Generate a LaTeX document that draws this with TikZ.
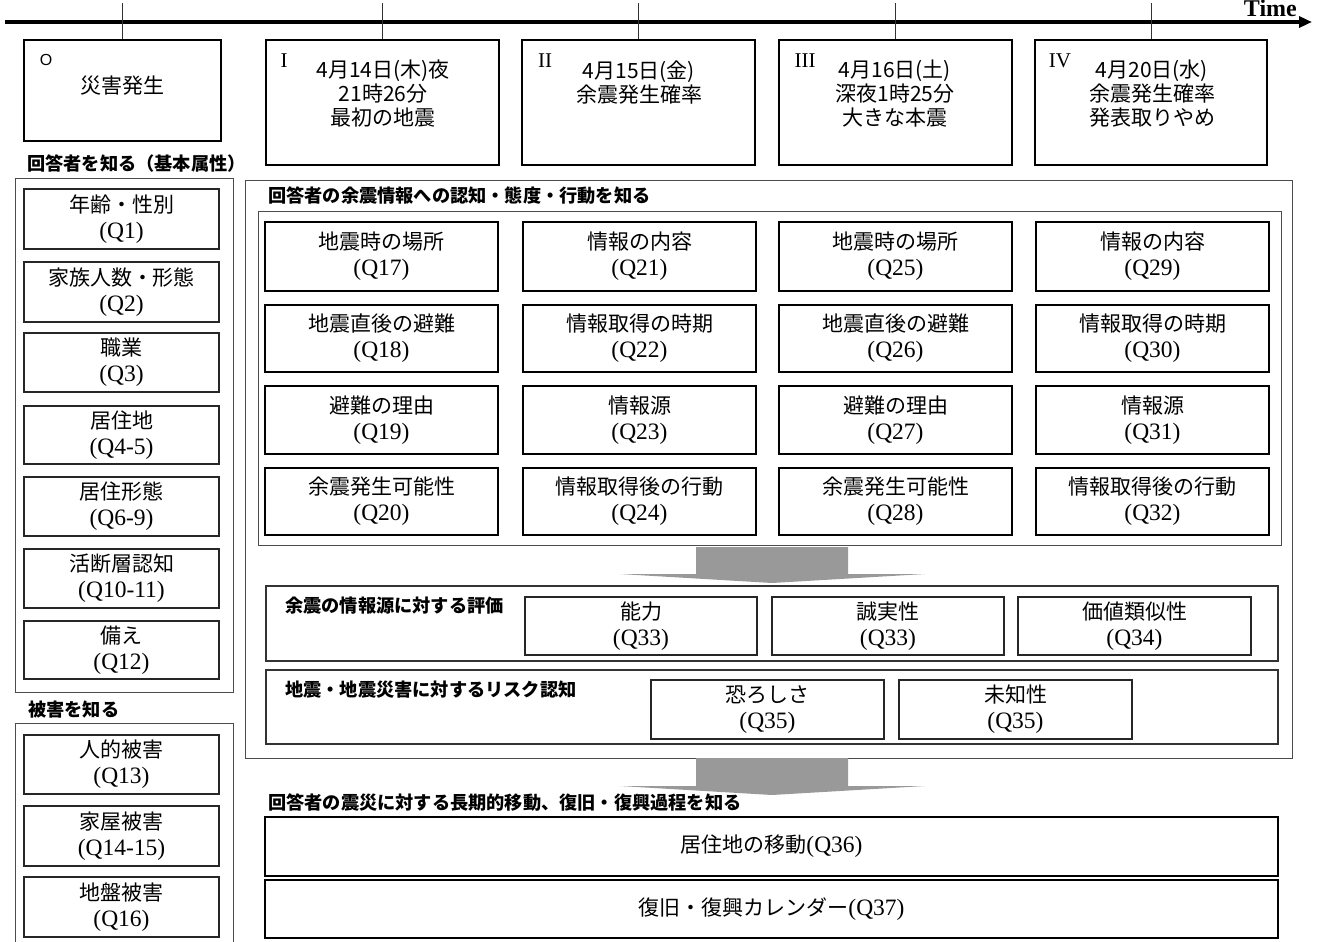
\documentclass[tikz,border=0pt]{standalone}
\usepackage{fontspec}
\setmainfont{Liberation Serif}
\newfontfamily\jp{Noto Sans CJK JP}
\newfontfamily\osans{Liberation Sans}
\usetikzlibrary{arrows.meta}
\tikzset{
  base/.style={draw, inner sep=0pt, align=center, font=\fontsize{21}{26}\selectfont},
  tlbox/.style={base, line width=2.2pt},
  gbox/.style={base, line width=2.4pt},
  lbox/.style={base, line width=1.3pt, draw=black!85},
  bbox/.style={base, line width=2.8pt},
  frame/.style={draw=black!70, line width=1pt},
  subframe/.style={draw=black!80, line width=1.3pt},
  lab/.style={anchor=west, inner sep=0pt, font=\jp\bfseries\fontsize{18.2}{20}\selectfont},
  numeral/.style={inner sep=0pt, font=\fontsize{21}{21}\selectfont},
  tltext/.style={inner sep=0pt, align=center, font=\jp\fontsize{21}{24}\selectfont},
  arr/.style={fill=black!40, draw=none},
  tick/.style={draw=black!80, line width=1pt},
}
\newcommand\mkbox[7]{\node[#1, minimum width={(#4)-(#2)}, minimum height={(#5)-(#3)}] (#6) at ({((#2)+(#4))/2},{((#3)+(#5))/2}) {#7};}
\newcommand\qf{\fontsize{23.5}{26}\selectfont}
\newcommand\ql[2]{{\jp #1}\\{\qf #2}}
\begin{document}
\begin{tikzpicture}[x=1pt,y=-1pt]
\useasboundingbox (0,0) rectangle (1320,942);
\fill[white] (0,0) rectangle (1320,942);

% timeline
\coordinate (tl0) at (5,22);
\coordinate (tl1) at (1312,22);
\draw[line width=3.5pt, -{Triangle[length=13pt,width=11pt]}] (tl0) -- (tl1);
\node[anchor=base east, inner sep=0pt, font=\bfseries\fontsize{24}{24}\selectfont] (time) at (1297,17) {Time};

% timeline boxes
\mkbox{tlbox}{24}{40}{221}{141}{b0}{}
\mkbox{tlbox}{266}{40}{499}{165}{b1}{}
\mkbox{tlbox}{522}{40}{755}{165}{b2}{}
\mkbox{tlbox}{779}{40}{1012}{165}{b3}{}
\mkbox{tlbox}{1035}{40}{1267}{165}{b4}{}
\foreach \b in {b0,b1,b2,b3,b4}{
  \coordinate (\b top) at (\b.north |- 0,3);
  \draw[tick] (\b top) -- (\b.north);
}
\node[inner sep=0pt, font=\osans\fontsize{16}{16}\selectfont] (n0) at (46,60) {O};
\node[numeral] (n1) at (284,61) {I};
\node[numeral] (n2) at (545,61) {II};
\node[numeral] (n3) at (805,61) {III};
\node[numeral] (n4) at (1060,61) {IV};
\node[tltext] (t0) at (122,86) {災害発生};
\node[tltext] (t1) at (383,94) {4月14日(木)夜\\21時26分\\最初の地震};
\node[tltext] (t2) at (639,83) {4月15日(金)\\余震発生確率};
\node[tltext] (t3) at (895,94) {4月16日(土)\\深夜1時25分\\大きな本震};
\node[tltext] (t4) at (1152,94) {4月20日(水)\\余震発生確率\\発表取りやめ};

% left column
\node[lab] (labA) at (27,164) {回答者を知る（基本属性）};
\draw[frame] (15,178) rectangle (233,692);
\mkbox{lbox}{24}{189}{219}{249}{q1}{\ql{年齢・性別}{(Q1)}}
\mkbox{lbox}{24}{262}{219}{322}{q2}{\ql{家族人数・形態}{(Q2)}}
\mkbox{lbox}{24}{333}{219}{392}{q3}{\ql{職業}{(Q3)}}
\mkbox{lbox}{24}{406}{219}{464}{q4}{\ql{居住地}{(Q4-5)}}
\mkbox{lbox}{24}{477}{219}{536}{q6}{\ql{居住形態}{(Q6-9)}}
\mkbox{lbox}{24}{549}{219}{608}{q10}{\ql{活断層認知}{(Q10-11)}}
\mkbox{lbox}{24}{621}{219}{679}{q12}{\ql{備え}{(Q12)}}

\node[lab] (labB) at (28,710) {被害を知る};
\draw[frame] (15,723) rectangle (233,960);
\mkbox{lbox}{24}{735}{219}{794}{q13}{\ql{人的被害}{(Q13)}}
\mkbox{lbox}{24}{806}{219}{866}{q14}{\ql{家屋被害}{(Q14-15)}}
\mkbox{lbox}{24}{877}{219}{937}{q16}{\ql{地盤被害}{(Q16)}}

% right: big frame
\draw[frame] (245,180) rectangle (1292,758);
\node[lab] (labC) at (268,196) {回答者の余震情報への認知・態度・行動を知る};
\draw[frame] (258,211) rectangle (1281,545);

% grid
\mkbox{gbox}{265}{222}{498}{291}{q17}{\ql{地震時の場所}{(Q17)}}
\mkbox{gbox}{265}{305}{498}{372}{q18}{\ql{地震直後の避難}{(Q18)}}
\mkbox{gbox}{265}{386}{498}{454}{q19}{\ql{避難の理由}{(Q19)}}
\mkbox{gbox}{265}{468}{498}{535}{q20}{\ql{余震発生可能性}{(Q20)}}
\mkbox{gbox}{523}{222}{756}{291}{q21}{\ql{情報の内容}{(Q21)}}
\mkbox{gbox}{523}{305}{756}{372}{q22}{\ql{情報取得の時期}{(Q22)}}
\mkbox{gbox}{523}{386}{756}{454}{q23}{\ql{情報源}{(Q23)}}
\mkbox{gbox}{523}{468}{756}{535}{q24}{\ql{情報取得後の行動}{(Q24)}}
\mkbox{gbox}{779}{222}{1012}{291}{q25}{\ql{地震時の場所}{(Q25)}}
\mkbox{gbox}{779}{305}{1012}{372}{q26}{\ql{地震直後の避難}{(Q26)}}
\mkbox{gbox}{779}{386}{1012}{454}{q27}{\ql{避難の理由}{(Q27)}}
\mkbox{gbox}{779}{468}{1012}{535}{q28}{\ql{余震発生可能性}{(Q28)}}
\mkbox{gbox}{1036}{222}{1269}{291}{q29}{\ql{情報の内容}{(Q29)}}
\mkbox{gbox}{1036}{305}{1269}{372}{q30}{\ql{情報取得の時期}{(Q30)}}
\mkbox{gbox}{1036}{386}{1269}{454}{q31}{\ql{情報源}{(Q31)}}
\mkbox{gbox}{1036}{468}{1269}{535}{q32}{\ql{情報取得後の行動}{(Q32)}}

% arrow 1
\fill[arr] (696,547) -- (848,547) -- (848,574) -- (925,574) -- (772,583) -- (620,574) -- (696,574) -- cycle;

% evaluation
\draw[subframe] (266,586) rectangle (1278,661);
\node[lab] (labD) at (285,606) {余震の情報源に対する評価};
\mkbox{lbox}{525}{597}{757}{655}{q33a}{\ql{能力}{(Q33)}}
\mkbox{lbox}{772}{597}{1004}{655}{q33b}{\ql{誠実性}{(Q33)}}
\mkbox{lbox}{1018}{597}{1251}{655}{q34}{\ql{価値類似性}{(Q34)}}

% risk
\draw[subframe] (266,670) rectangle (1278,744);
\node[lab] (labE) at (285,690) {地震・地震災害に対するリスク認知};
\mkbox{lbox}{651}{680}{884}{739}{q35a}{\ql{恐ろしさ}{(Q35)}}
\mkbox{lbox}{899}{680}{1132}{739}{q35b}{\ql{未知性}{(Q35)}}

% arrow 2
\fill[arr] (696,758) -- (848,758) -- (848,786) -- (925,786) -- (772,795) -- (620,786) -- (696,786) -- cycle;

% long-term
\node[lab] (labF) at (268,803) {回答者の震災に対する長期的移動、復旧・復興過程を知る};
\mkbox{bbox}{265}{817}{1278}{876}{q36}{{\jp 居住地の移動}{\qf (Q36)}}
\mkbox{bbox}{265}{880}{1278}{938}{q37}{{\jp 復旧・復興カレンダー}{\qf (Q37)}}
\end{tikzpicture}
\end{document}
